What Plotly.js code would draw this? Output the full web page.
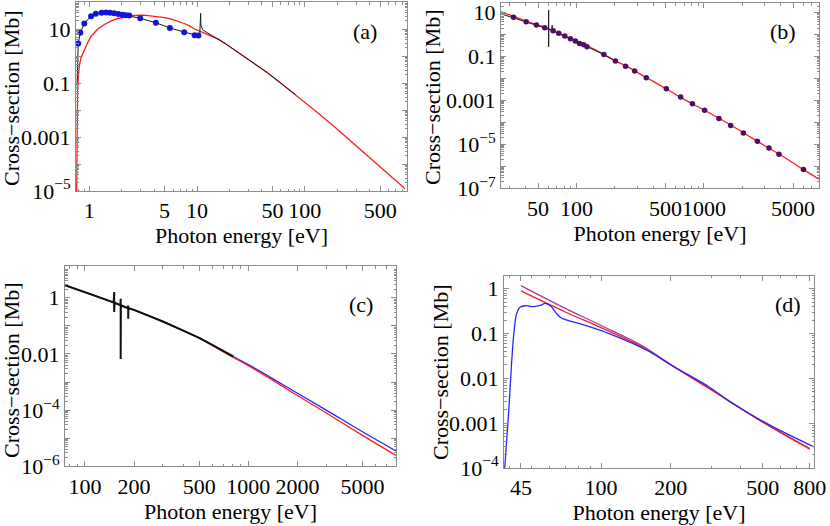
<!DOCTYPE html>
<html>
<head>
<meta charset="utf-8">
<script src="https://cdn.plot.ly/plotly-3.0.1.min.js"></script>
<style>
  html, body { margin: 0; padding: 0; background: #fff; }
  #chart { width: 830px; height: 526px; }
</style>
</head>
<body>
<div id="chart"></div>
<script>
// ---- panel (a) ----
const aRedE = [0.764, 0.766, 0.772, 0.78, 0.79, 0.808, 0.838, 0.9, 0.97, 1.04, 1.12, 1.2, 1.38, 1.6, 1.83, 2.2, 2.6, 3.2, 4.0, 4.8, 5.6, 6.5, 7.6, 8.5, 9.5, 10.7, 12, 13.8, 15.9, 18.5, 22, 26, 30, 37, 45, 60, 82, 120, 186, 270, 378, 560, 852];
const aRedY = [1e-5, 1e-3, 0.02, 0.07, 0.15, 0.42, 0.85, 1.7, 3.2, 5.4, 7.8, 10, 14.7, 20, 24.5, 28.5, 31.6, 32.5, 30, 27, 24, 20, 16, 13, 10, 8.2, 6.6, 5.2, 4.1, 2.8, 1.74, 1.1, 0.75, 0.42, 0.24, 0.098, 0.037, 0.0107, 0.0025, 6.8e-4, 2.1e-4, 5.2e-5, 1.2e-5];
const aDotE = [0.79, 0.826, 0.90, 1.04, 1.15, 1.30, 1.43, 1.56, 1.70, 1.86, 2.04, 2.19, 2.35, 2.97, 4.15, 5.6, 7.6, 9.5, 10.3];
const aDotY = [2.9, 7.2, 16, 29.8, 37, 40, 41, 40, 38.5, 36, 34, 32, 31.6, 25, 17, 11, 7.6, 5.9, 5.75];
const aBlackE = [0.772, 0.79, 0.826, 0.90, 1.04, 1.15, 1.30, 1.43, 1.56, 1.70, 1.86, 2.04, 2.19, 2.35, 2.97, 4.15, 5.6, 7.6, 9.5, 10.3, 10.6, 10.8, 10.85, 11.3, 12, 13.8, 15.9, 18.5, 22, 26, 30, 37, 45, 60, 82];
const aBlackY = [0.1, 2.9, 7.2, 16, 29.8, 37, 40, 41, 40, 38.5, 36, 34, 32, 31.6, 25, 17, 11, 7.6, 5.9, 5.75, 6.5, 38, 14, 9.2, 8.0, 5.4, 4.1, 2.8, 1.74, 1.1, 0.75, 0.42, 0.24, 0.098, 0.037];
const aXTicks = [1, 5, 10, 50, 100, 500];
const aYTicks = [1e-5, 1e-4, 1e-3, 0.01, 0.1, 1, 10];
const aYText = ['10<sup>−5</sup>', '', '0.001', '', '0.1', '', '10'];

// ---- panel (b) ----
const bRedE = [25.6, 32, 40, 50, 60, 80, 100, 125, 160, 200, 250, 350, 500, 700, 1000, 1500, 2000, 3000, 4000, 6000, 8000];
const bRedY = [11, 6.8, 4.2, 2.75, 1.9, 0.9, 0.52, 0.29, 0.135, 0.066, 0.035, 0.0115, 0.0036, 0.00112, 3.7e-4, 1.0e-4, 3.7e-5, 8.7e-6, 3.3e-6, 7.3e-7, 2.6e-7];
const bDotE = [32.1, 40.3, 48.5, 56.4, 65.6, 72.6, 81, 89.7, 98, 105.6, 114, 121, 164, 202, 243, 286, 353, 507, 657, 812, 1012, 1312, 1622, 2040, 2630, 3240, 3880, 6040];
const bDotY = [6.2, 3.9, 2.74, 2.07, 1.51, 1.15, 0.86, 0.65, 0.51, 0.40, 0.35, 0.28, 0.126, 0.064, 0.036, 0.022, 0.011, 0.0034, 0.00146, 7.2e-4, 3.6e-4, 1.5e-4, 7.2e-5, 3.3e-5, 1.38e-5, 6.9e-6, 3.6e-6, 7.1e-7];
const bBlackE = [25.6, 32.1, 40.3, 48.5, 56.4, 60.4, 60.5, 60.5, 60.6, 64.4, 64.5, 64.5, 64.6, 72.6, 81, 89.7, 98, 105.6, 114, 121, 164, 202];
const bBlackY = [8.9, 5.9, 3.8, 2.65, 2.0, 1.78, 13, 0.28, 1.76, 1.57, 2.7, 1.2, 1.56, 1.13, 0.85, 0.64, 0.5, 0.4, 0.34, 0.28, 0.125, 0.064];
const bXTicks = [50, 100, 500, 1000, 5000];
const bYTicks = [1e-7, 1e-6, 1e-5, 1e-4, 1e-3, 0.01, 0.1, 1, 10];
const bYText = ['10<sup>−7</sup>', '', '10<sup>−5</sup>', '', '0.001', '', '0.1', '', '10'];

// ---- panel (c) ----
const cE = [75.5, 100, 130, 160, 200, 250, 300, 400, 500, 650, 800, 1000, 1500, 2000, 3000, 5000, 8000];
const cBlueY = [2.75, 1.58, 0.912, 0.575, 0.363, 0.219, 0.141, 0.0676, 0.0372, 0.0162, 0.00832, 0.00417, 0.00107, 3.98e-4, 1.0e-4, 1.70e-5, 3.55e-6];
const cRedY = [2.75, 1.58, 0.912, 0.575, 0.363, 0.219, 0.141, 0.0668, 0.0363, 0.0155, 0.00776, 0.0038, 9.3e-4, 3.3e-4, 7.9e-5, 1.26e-5, 2.45e-6];
const cBlackE = [75.5, 100, 130, 150, 151, 151, 152, 160, 165, 165.5, 165.5, 166, 175, 183.5, 184, 184, 184.5, 200, 250, 300, 400, 500, 650, 809];
const cBlackY = [2.82, 1.62, 0.933, 0.684, 1.6, 0.31, 0.67, 0.589, 0.55, 0.92, 0.0066, 0.545, 0.47, 0.43, 0.53, 0.18, 0.425, 0.37, 0.222, 0.143, 0.068, 0.0375, 0.0163, 0.0081];
const cXTicks = [100, 200, 500, 1000, 2000, 5000];
const cYTicks = [1e-6, 1e-5, 1e-4, 1e-3, 0.01, 0.1, 1];
const cYText = ['10<sup>−6</sup>', '', '10<sup>−4</sup>', '', '0.01', '', '1'];

// ---- panel (d) ----
const dLineE = [45, 70, 100, 150, 200, 300, 500, 800];
const dPurpleY = [1.17, 0.363, 0.151, 0.0537, 0.0204, 0.00562, 0.00107, 2.72e-4];
const dRedY = [0.891, 0.302, 0.135, 0.0501, 0.02, 0.0055, 0.00105, 2.62e-4];
const dBlueE = [38.3, 39.8, 41.0, 42.1, 43.2, 44.7, 47.3, 50.5, 54.0, 57.8, 60.7, 63.8, 67.1, 74.2, 82.0, 107, 160, 205, 291, 368, 540, 834];
const dBlueY = [1e-4, 0.0017, 0.0219, 0.123, 0.288, 0.389, 0.417, 0.398, 0.417, 0.468, 0.407, 0.288, 0.224, 0.186, 0.162, 0.102, 0.0407, 0.0186, 0.0066, 0.00282, 8.9e-4, 2.95e-4];
const dXTicks = [45, 100, 200, 500, 800];
const dYTicks = [1e-4, 1e-3, 0.01, 0.1, 1];
const dYText = ['10<sup>−4</sup>', '0.001', '0.01', '0.1', '1'];

const FONT = "'Liberation Serif', 'Times New Roman', serif";
const FS = 22;
const FRAME = '#8c8c8c';
const RED = '#ff1a1a';
const BLUE = '#2626ff';

// minor ticks 2..9 x 10^d inside a log range, skipping the major ones
function minorTicks(range, major) {
    const out = [];
    for (let d = Math.floor(range[0]); d <= Math.ceil(range[1]); d++) {
        for (let m = 1; m < 10; m++) {
            const v = m * Math.pow(10, d);
            const lv = Math.log10(v);
            if (lv < range[0] || lv > range[1]) continue;
            if (major.some(t => Math.abs(t / v - 1) < 1e-6)) continue;
            out.push(v);
        }
    }
    return out;
}

function logAxis(domain, range, vals, text, anchor, withTitle) {
    const ax = {
        type: 'log',
        domain: domain,
        range: range,
        anchor: anchor,
        tickmode: 'array',
        tickvals: vals,
        ticktext: text || vals.map(String),
        tickangle: 0,
        ticks: 'inside',
        ticklen: 5,
        tickwidth: 1,
        tickcolor: FRAME,
        minor: { tickmode: 'array', tickvals: minorTicks(range, vals), ticks: 'inside', ticklen: 2.5, tickcolor: FRAME, tickwidth: 1 },
        showline: true,
        linecolor: FRAME,
        linewidth: 1,
        mirror: 'allticks',
        showgrid: false,
        zeroline: false,
        tickfont: { family: FONT, size: FS, color: '#000' }
    };
    if (withTitle) {
        ax.title = { text: 'Photon energy [eV]', font: { family: FONT, size: FS, color: '#000' }, standoff: 0 };
    }
    return ax;
}

function line(x, y, xa, ya, color, width, shape) {
    return { x: x, y: y, xaxis: xa, yaxis: ya, type: 'scatter', mode: 'lines',
             line: { color: color, width: width, shape: shape || 'linear' }, hoverinfo: 'skip', showlegend: false };
}
function dots(x, y, xa, ya, color, size) {
    return { x: x, y: y, xaxis: xa, yaxis: ya, type: 'scatter', mode: 'markers',
             marker: { color: color, size: size }, hoverinfo: 'skip', showlegend: false };
}

const traces = [
    // (a)
    line(aRedE, aRedY, 'x', 'y', RED, 1.3),
    line(aBlackE, aBlackY, 'x', 'y', '#1a1a1a', 1),
    dots(aDotE, aDotY, 'x', 'y', '#1414d8', 6),
    // (b)
    line(bRedE, bRedY, 'x2', 'y2', RED, 1.3, 'spline'),
    line(bBlackE, bBlackY, 'x2', 'y2', '#1a1a1a', 1),
    dots(bDotE, bDotY, 'x2', 'y2', '#4e0c64', 5.5),
    // (c)
    line(cE, cBlueY, 'x3', 'y3', BLUE, 1.3, 'spline'),
    line(cE, cRedY, 'x3', 'y3', RED, 1.3, 'spline'),
    line(cBlackE, cBlackY, 'x3', 'y3', '#111', 2),
    // (d)
    line(dLineE, dPurpleY, 'x4', 'y4', '#a03ca8', 1.3, 'spline'),
    line(dLineE, dRedY, 'x4', 'y4', RED, 1.3, 'spline'),
    line(dBlueE, dBlueY, 'x4', 'y4', BLUE, 1.3, 'spline')
];

// pixel helpers for annotations
const W = 830, H = 526;
function ann(text, px, py, angle) {
    return { text: text, xref: 'paper', yref: 'paper', x: px / W, y: 1 - py / H,
             xanchor: 'center', yanchor: 'middle', showarrow: false, textangle: angle || 0,
             font: { family: FONT, size: FS, color: '#000' } };
}
const yTitle = 'Cross−section [Mb]';

const layout = {
    width: W,
    height: H,
    margin: { l: 0, r: 0, t: 0, b: 0 },
    paper_bgcolor: '#fff',
    plot_bgcolor: '#fff',
    showlegend: false,
    xaxis:  logAxis([76 / W, 407 / W], [-0.123, 2.948], aXTicks, null, 'y', true),
    yaxis:  logAxis([1 - 191 / H, 1 - 2 / H], [-5, 2.0], aYTicks, aYText, 'x', false),
    xaxis2: logAxis([501 / W, 819 / W], [1.408, 3.903], bXTicks, null, 'y2', true),
    yaxis2: logAxis([1 - 188.3 / H, 1 - 3.3 / H], [-7, 1.43], bYTicks, bYText, 'x2', false),
    xaxis3: logAxis([65 / W, 396 / W], [1.878, 3.904], cXTicks, null, 'y3', true),
    yaxis3: logAxis([1 - 466.3 / H, 1 - 266 / H], [-6, 1.13], cYTicks, cYText, 'x3', false),
    xaxis4: logAxis([504 / W, 814 / W], [1.58, 2.921], dXTicks, null, 'y4', true),
    yaxis4: logAxis([1 - 468 / H, 1 - 275.7 / H], [-4, 0.29], dYTicks, dYText, 'x4', false),
    annotations: [
        ann('(a)', 365, 31.7), ann('(b)', 783, 31.7), ann('(c)', 360.7, 304.7), ann('(d)', 788.3, 304.7),
        ann(yTitle, 11, 98, -90), ann(yTitle, 433, 97, -90), ann(yTitle, 11, 370, -90), ann(yTitle, 440, 372, -90)
    ]
};

Plotly.newPlot('chart', traces, layout, { staticPlot: true });
</script>
</body>
</html>
